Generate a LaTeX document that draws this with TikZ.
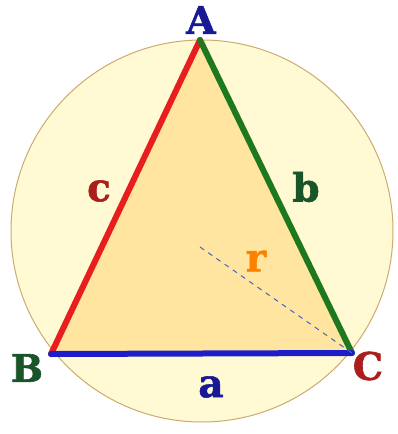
\documentclass[tikz,border=0pt]{standalone}
\usepackage{fontspec}
\setmainfont{DejaVu Serif}[BoldFeatures={FakeBold=1.5}]
\begin{document}
\begin{tikzpicture}[x=1pt,y=-1pt,
  lbl/.style={font=\bfseries\fontsize{38}{38}\selectfont, inner sep=0pt},
  lbls/.style={font=\bfseries\fontsize{39}{39}\selectfont, inner sep=0pt},
  side/.style={line width=6pt, line cap=round}]
\definecolor{circfill}{RGB}{255,250,212}
\definecolor{circline}{RGB}{205,170,110}
\definecolor{trifill}{RGB}{255,229,160}
\definecolor{sred}{RGB}{232,30,30}
\definecolor{sgreen}{RGB}{30,120,30}
\definecolor{sblue}{RGB}{30,30,200}
\definecolor{dashc}{RGB}{70,100,200}
\definecolor{lblue}{RGB}{25,25,150}
\definecolor{lgreen}{RGB}{25,85,40}
\definecolor{lred}{RGB}{170,30,30}
\definecolor{lorange}{RGB}{250,130,0}
\useasboundingbox (0,0) rectangle (397,434);
\fill[white] (0,0) rectangle (397,434);
\coordinate (O) at (202,231);
\draw[circline, fill=circfill, line width=1pt] (O) circle[radius=191];
\coordinate (A) at (200,40);
\coordinate (B) at (51,354);
\coordinate (C) at (352,353);
\coordinate (R0) at (200,247);
\fill[trifill] (A) -- (B) -- (C) -- cycle;
\draw[side, sred] (B) -- (A);
\draw[side, sgreen] (A) -- (C);
\draw[side, sblue] (B) -- (C);
\draw[dashc, line width=1pt, dash pattern=on 5pt off 5pt] (R0) -- (C);
\node[lbl, lblue] (lA) at (201,20) {A};
\node[lbl, lgreen] (lB) at (27,368) {B};
\node[lbl, lred] (lC) at (368,366) {C};
\node[lbls, lblue] (la) at (211,387) {a};
\node[lbls, lgreen] (lb) at (306,187) {b};
\node[lbls, lred] (lc) at (99,191) {c};
\node[lbls, lorange] (lr) at (256,261) {r};
\end{tikzpicture}
\end{document}
